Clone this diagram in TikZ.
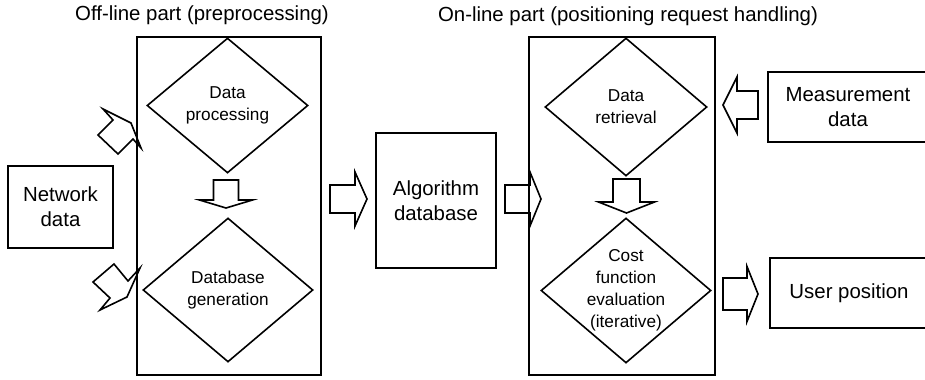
\documentclass[tikz,border=0pt]{standalone}
\usepackage{fontspec}
\setmainfont{Liberation Sans}
\usetikzlibrary{shapes.geometric}
\def\px{0.75pt}
\tikzset{
  % hollow block arrow, tail at the origin, pointing along +x
  % {length}{head start}{half shaft}{half head}
  pics/blockarrow/.style n args={4}{code={
    \draw[arrowline] (0,-#3) -- (#2,-#3) -- (#2,-#4) -- (#1,0)
      -- (#2,#4) -- (#2,#3) -- (0,#3) -- cycle;
  }},
}
\begin{document}
\begin{tikzpicture}[x=\px, y=-\px,
    every node/.style={font=\fontsize{15.3}{18.6}\selectfont},
    box/.style={draw, line width=1.2pt, align=center, inner sep=0pt},
    decision/.style={diamond, draw, line width=1.2pt, inner sep=0pt},
    dtext/.style={align=center, inner sep=0pt, font=\fontsize{12.9}{16.5}\selectfont},
    arrowline/.style={line width=1.2pt, line join=miter}]
  \clip (0,0) rectangle (925,379);

  % titles
  \node (offtitle) at (202,15) {Off-line part (preprocessing)};
  \node (ontitle) at (628,16) {On-line part (positioning request handling)};

  % panels
  \node[box, minimum width=184*\px, minimum height=338*\px] (offline) at (229,206) {};
  \node[box, minimum width=186*\px, minimum height=338*\px] (online) at (622,206) {};

  % blocks
  \node[box, minimum width=105*\px, minimum height=82*\px] (netdata) at (60.5,207) {Network\\data};
  \node[box, minimum width=120*\px, minimum height=135*\px] (algdb) at (436,200.5) {Algorithm\\database};
  \node[box, minimum width=160*\px, minimum height=70*\px] (measdata) at (848,107) {Measurement\\data};
  \node[box, minimum width=158*\px, minimum height=70*\px] (userpos) at (849,293) {User position};

  % decisions
  \node[decision, minimum width=161*\px, minimum height=135*\px,
        label={[dtext]center:Data\\processing}] (proc) at (227.5,105.5) {};
  \node[decision, minimum width=170*\px, minimum height=144*\px,
        label={[dtext]center:Database\\generation}] (gen) at (228,290) {};
  \node[decision, minimum width=162*\px, minimum height=138*\px,
        label={[dtext]center:Data\\retrieval}] (retr) at (626,107) {};
  \node[decision, minimum width=170*\px, minimum height=145*\px,
        label={[dtext]center:Cost\\function\\evaluation\\(iterative)}] (cost) at (626,290.5) {};

  % block arrows
  \pic[rotate=-90] (procgen) at (226,180) {blockarrow={28}{20}{12.5}{26.5}};
  \pic[rotate=-90] (retrcost) at (626.5,179) {blockarrow={34}{23}{13.5}{28}};
  \pic (offalg) at (330,199) {blockarrow={37}{25}{14}{27}};
  \pic (algon) at (505,199) {blockarrow={36}{25}{14}{27}};
  \pic[rotate=180] (measin) at (758,105) {blockarrow={35}{21}{14}{28}};
  \pic (userout) at (723,294) {blockarrow={35}{24}{16}{27.5}};

  % network data into the off-line part
  \draw[arrowline] (103,109) -- (131,123) -- (141,148) -- (133,139)
    -- (118,154) -- (98,135) -- (113,120) -- cycle;
  \draw[arrowline] (114,264) -- (128,281) -- (140,268) -- (127,297)
    -- (100,310) -- (110,298) -- (93,282) -- cycle;
\end{tikzpicture}
\end{document}
